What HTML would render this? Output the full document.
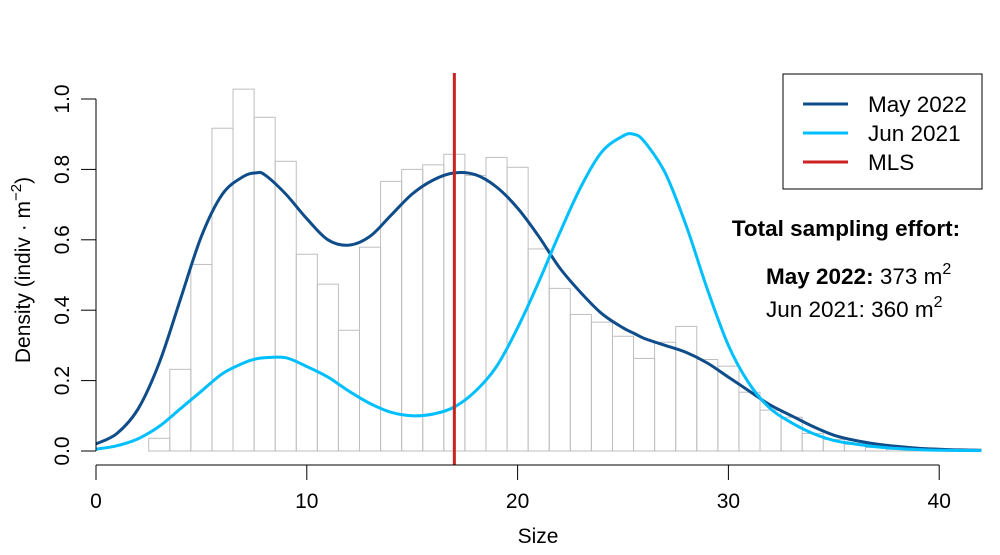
<!DOCTYPE html>
<html><head><meta charset="utf-8"><style>
body{margin:0;background:#fff;position:relative}
svg{display:block;font-family:"Liberation Sans",Arial,sans-serif}
</style></head><body>
<svg id="c" width="1000" height="555"></svg>
<script>
const binStarts=[1.5,2.5,3.5,4.5,5.5,6.5,7.5,8.5,9.5,10.5,11.5,12.5,13.5,14.5,15.5,16.5,17.5,18.5,19.5,20.5,21.5,22.5,23.5,24.5,25.5,26.5,27.5,28.5,29.5,30.5,31.5,32.5,33.5,34.5,35.5,36.5,37.5,38.5,39.5,40.5];
const binHeights=[0,0.036,0.232,0.530,0.917,1.028,0.948,0.823,0.559,0.474,0.343,0.579,0.766,0.800,0.813,0.843,0.783,0.834,0.806,0.574,0.462,0.388,0.366,0.326,0.263,0.309,0.354,0.260,0.241,0.167,0.116,0.096,0.050,0.033,0.019,0.010,0.005,0.002,0.001,0];
const curveX=[0,1,2,3,4,5,6,7,7.6,8,9,10,11,12,13,14,15,16,17,18,19,20,21,22,23,24,25,25.5,26,27,28,29,30,31,32,33,34,35,36,37,38,39,40,41,42];
const may2022=[0.02,0.05,0.12,0.25,0.43,0.61,0.73,0.78,0.79,0.785,0.73,0.66,0.60,0.585,0.61,0.67,0.73,0.77,0.79,0.785,0.75,0.69,0.61,0.52,0.45,0.39,0.35,0.335,0.32,0.30,0.28,0.25,0.21,0.17,0.13,0.10,0.07,0.045,0.03,0.02,0.013,0.008,0.005,0.003,0.002];
const jun2021=[0.005,0.015,0.035,0.07,0.12,0.17,0.22,0.25,0.262,0.265,0.265,0.24,0.21,0.17,0.135,0.11,0.10,0.105,0.125,0.17,0.24,0.35,0.48,0.62,0.75,0.85,0.895,0.90,0.88,0.79,0.64,0.46,0.30,0.19,0.12,0.08,0.05,0.03,0.02,0.012,0.007,0.004,0.002,0.0015,0.001];
const mls=17;
const xTicks=[0,10,20,30,40];
const yTicks=[0,0.2,0.4,0.6,0.8,1.0];
const yTickLabels=["0.0","0.2","0.4","0.6","0.8","1.0"];

const NS="http://www.w3.org/2000/svg";
const svg=document.getElementById('c');
const X=v=>96+v*21.08;
const Y=v=>451-v*352;
function mk(t,a,p){const e=document.createElementNS(NS,t);for(const k in a)e.setAttribute(k,a[k]);(p||svg).appendChild(e);return e;}

const gh=mk('g',{});


binStarts.forEach((s,i)=>{
  const h=binHeights[i];
  const r=mk('rect',{x:X(s),y:Y(h),width:X(s+1)-X(s),height:Y(0)-Y(h),fill:'none',stroke:'#bebebe','stroke-width':1},gh);
  
  
});
function line(vals,col,name){
  const P=curveX.map((x,i)=>[X(x),Y(vals[i])]);
  let d='M'+P[0][0]+','+P[0][1];
  for(let i=0;i<P.length-1;i++){
    const p0=P[Math.max(0,i-1)],p1=P[i],p2=P[i+1],p3=P[Math.min(P.length-1,i+2)];
    const c1=[p1[0]+(p2[0]-p0[0])/6,p1[1]+(p2[1]-p0[1])/6];
    const c2=[p2[0]-(p3[0]-p1[0])/6,p2[1]-(p3[1]-p1[1])/6];
    d+=`C${c1[0].toFixed(1)},${c1[1].toFixed(1)} ${c2[0].toFixed(1)},${c2[1].toFixed(1)} ${p2[0].toFixed(1)},${p2[1].toFixed(1)}`;
  }
  const p=mk('path',{d:d,fill:'none',stroke:col,'stroke-width':3,'stroke-linejoin':'round'});
  
  
}
line(may2022,'#0f4c8a','may-2022-density-line');
line(jun2021,'#00bfff','jun-2021-density-line');
const ml=mk('line',{x1:X(mls),x2:X(mls),y1:73,y2:465,stroke:'#cc2222','stroke-width':3});



const xa=mk('g',{});


mk('line',{x1:X(0),x2:X(40),y1:465,y2:465,stroke:'#000'},xa);
xTicks.forEach(t=>{
  mk('line',{x1:X(t),x2:X(t),y1:465,y2:480,stroke:'#000'},xa);
  const tx=mk('text',{x:X(t),y:508,'text-anchor':'middle','font-size':21},xa);tx.textContent=t;
  
  
});
const ya=mk('g',{});


mk('line',{x1:96,x2:96,y1:Y(0),y2:Y(1),stroke:'#000'},ya);
yTicks.forEach((t,i)=>{
  mk('line',{x1:81,x2:96,y1:Y(t),y2:Y(t),stroke:'#000'},ya);
  const tx=mk('text',{x:0,y:0,'text-anchor':'middle','font-size':21,transform:`translate(69,${Y(t)}) rotate(-90)`},ya);tx.textContent=yTickLabels[i];
  
  
});
</script>
<svg style="position:absolute;left:0;top:0" width="1000" height="555">
<text x="538" y="543" text-anchor="middle" font-size="21">Size</text>
<text transform="translate(30,270) rotate(-90)" text-anchor="middle" font-size="21">Density (indiv · m<tspan dy="-9" font-size="15">−2</tspan><tspan dy="9">)</tspan></text>
<g>
<rect x="783" y="74" width="199" height="115" fill="#fff" stroke="#000"/>
<line x1="803" x2="848" y1="104" y2="104" stroke="#0f4c8a" stroke-width="3"/>
<text x="868" y="112" font-size="22.5">May 2022</text>
<line x1="803" x2="848" y1="133" y2="133" stroke="#00bfff" stroke-width="3"/>
<text x="868" y="141" font-size="22.5">Jun 2021</text>
<line x1="803" x2="848" y1="162" y2="162" stroke="#cc2222" stroke-width="3"/>
<text x="868" y="170" font-size="22.5">MLS</text>
</g>
<text x="846" y="236" text-anchor="middle" font-size="22.5" font-weight="bold">Total sampling effort:</text>
<text x="766" y="284" font-size="22.5"><tspan font-weight="bold">May 2022:</tspan> 373 m<tspan dy="-10" font-size="16">2</tspan></text>
<text x="766" y="317" font-size="22.5">Jun 2021: 360 m<tspan dy="-10" font-size="16">2</tspan></text>
</svg>
</body></html>
